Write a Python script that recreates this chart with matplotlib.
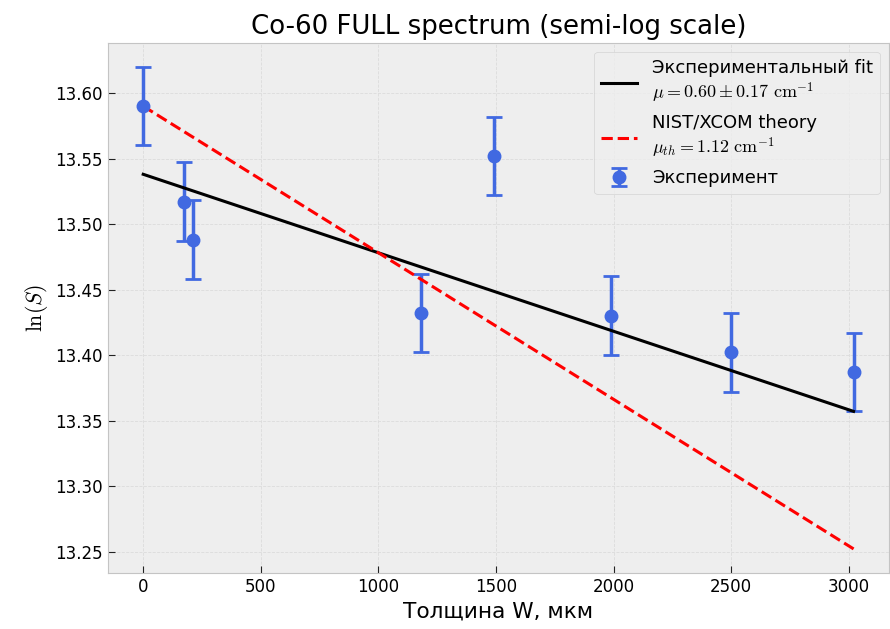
"""
Co-60 FULL spectrum: ln(S) vs absorber thickness, semi-log fit vs NIST/XCOM.
"""

import numpy as np
import matplotlib
matplotlib.use('Agg')
import matplotlib.pyplot as plt

# ── data ──────────────────────────────────────────────────────────────────────
thickness_um = np.array([0, 175, 210, 1180, 1490, 1990, 2500, 3020])
ln_s = np.array([13.590, 13.517, 13.488, 13.432, 13.552, 13.430, 13.402, 13.387])
ln_s_err = np.array([0.030, 0.030, 0.030, 0.030, 0.030, 0.030, 0.030, 0.030])

line_x = np.array([0, 3020])
fit_y = np.array([13.538, 13.357])      # mu = 0.60 cm^-1
theory_y = np.array([13.590, 13.252])   # mu_th = 1.12 cm^-1

plt.style.use('bmh')
plt.rcParams.update({"font.size": 13,
                     "grid.color": "#dcdcdc", "grid.linestyle": "--",
                     "grid.linewidth": 0.6,
                     "axes.edgecolor": "#c4c4c4"})

fig, ax = plt.subplots(figsize=(8.9, 6.29), dpi=100)
fig.subplots_adjust(left=0.121, right=0.999, top=0.932, bottom=0.089)

ax.errorbar(thickness_um, ln_s, yerr=ln_s_err, fmt='o', color='royalblue',
            markersize=9, elinewidth=2.5, capsize=6, capthick=2,
            label='Эксперимент')
ax.plot(line_x, fit_y, color='black', linewidth=2.2,
        label='Экспериментальный fit\n$\\mu = 0.60 \\pm 0.17\\ \\mathrm{cm}^{-1}$')
ax.plot(line_x, theory_y, color='red', linestyle='--', linewidth=2.2,
        label='NIST/XCOM theory\n$\\mu_{th} = 1.12\\ \\mathrm{cm}^{-1}$')

ax.set_title("Co-60 FULL spectrum (semi-log scale)", fontsize=18.7)
ax.set_xlabel("Толщина W, мкм", fontsize=15.6)
ax.set_ylabel("$\\ln(S)$", fontsize=15.6)
ax.tick_params(labelsize=12, direction='in', length=5, color='#222222',
               top=False, right=False)
ax.legend(loc='upper right', fontsize=13)

plt.savefig("out.png")
plt.close()
